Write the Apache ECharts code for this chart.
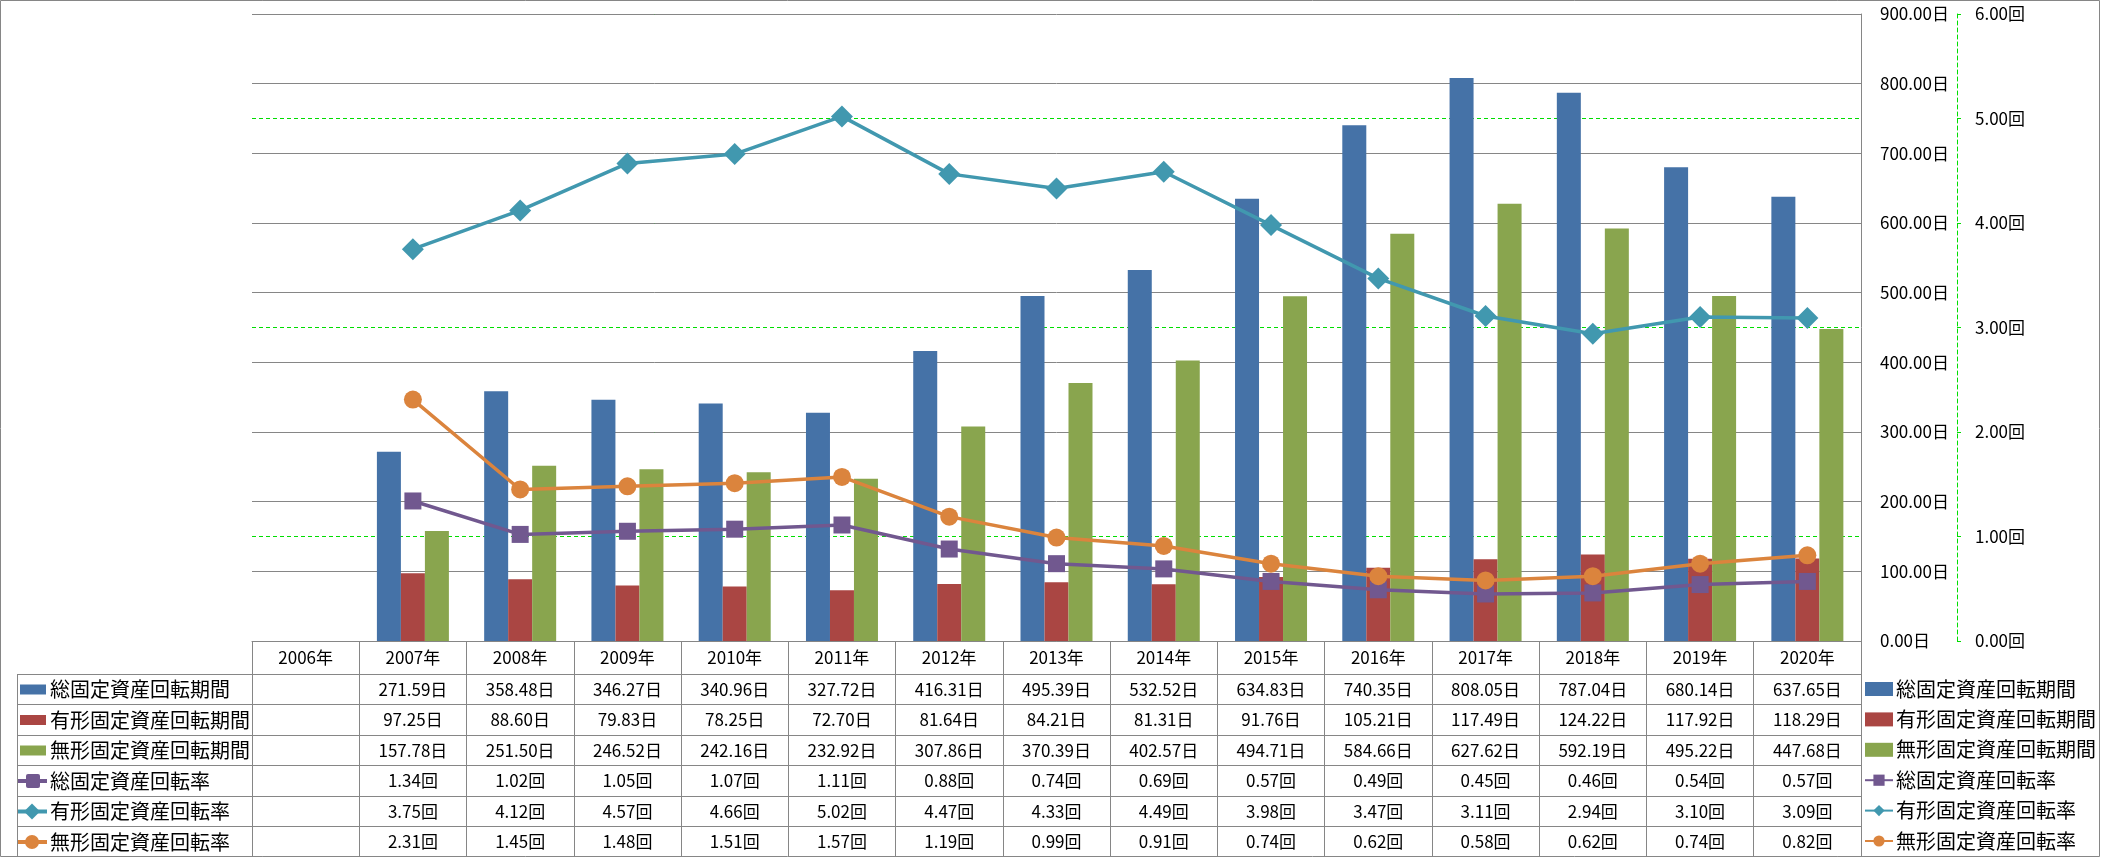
<!DOCTYPE html>
<html><head><meta charset="utf-8">
<script src="https://cdn.jsdelivr.net/npm/echarts@6/dist/echarts.min.js"></script>
<style>html,body{margin:0;padding:0;background:#fff}#c{width:2101px;height:858px}</style>
</head><body><div id="c"></div>
<script>
const categories = ['2006年','2007年','2008年','2009年','2010年','2011年','2012年','2013年','2014年','2015年','2016年','2017年','2018年','2019年','2020年'];
const totalPeriod      = [null, 271.59, 358.48, 346.27, 340.96, 327.72, 416.31, 495.39, 532.52, 634.83, 740.35, 808.05, 787.04, 680.14, 637.65];
const tangiblePeriod   = [null, 97.25, 88.60, 79.83, 78.25, 72.70, 81.64, 84.21, 81.31, 91.76, 105.21, 117.49, 124.22, 117.92, 118.29];
const intangiblePeriod = [null, 157.78, 251.50, 246.52, 242.16, 232.92, 307.86, 370.39, 402.57, 494.71, 584.66, 627.62, 592.19, 495.22, 447.68];
const totalRate        = [null, 1.34, 1.02, 1.05, 1.07, 1.11, 0.88, 0.74, 0.69, 0.57, 0.49, 0.45, 0.46, 0.54, 0.57];
const tangibleRate     = [null, 3.75, 4.12, 4.57, 4.66, 5.02, 4.47, 4.33, 4.49, 3.98, 3.47, 3.11, 2.94, 3.10, 3.09];
const intangibleRate   = [null, 2.31, 1.45, 1.48, 1.51, 1.57, 1.19, 0.99, 0.91, 0.74, 0.62, 0.58, 0.62, 0.74, 0.82];
const seriesNames = ['総固定資産回転期間','有形固定資産回転期間','無形固定資産回転期間','総固定資産回転率','有形固定資産回転率','無形固定資産回転率'];
const dayUnit = '日';
const rateUnit = '回';
const dayAxis = {min: 0, max: 900, interval: 100};
const rateAxis = {min: 0, max: 6, interval: 1};

const colors = ['#4572A7','#AA4643','#89A54E','#71588F','#4198AF','#DB843D'];
const symbols = ['rect','diamond','circle'];
const symbolSizes = [17, 22, 18];
const gray = '#868686';
const green = '#00dd00';
const FONT = '"Noto Sans CJK JP", "Noto Sans", sans-serif';

const chart = echarts.init(document.getElementById('c'), null, {renderer: 'canvas'});
const barData = [totalPeriod, tangiblePeriod, intangiblePeriod];
const lineData = [totalRate, tangibleRate, intangibleRate];

const series = [];
barData.forEach((d, i) => series.push({
  name: seriesNames[i], type: 'bar', yAxisIndex: 0, data: d,
  barWidth: 24, barGap: '0%', itemStyle: {color: colors[i]}
}));
lineData.forEach((d, i) => series.push({
  name: seriesNames[3 + i], type: 'line', yAxisIndex: 1, data: d,
  symbol: symbols[i], symbolSize: symbolSizes[i], showSymbol: true,
  lineStyle: {color: colors[3 + i], width: 3.5},
  itemStyle: {color: colors[3 + i]}
}));

const option = {
  animation: false,
  backgroundColor: '#fff',
  grid: {left: 252, right: 240, top: 14, bottom: 217, containLabel: false},
  legend: {
    orient: 'vertical', left: 1864, top: 679, itemGap: 10.4, padding: 0,
    itemWidth: 28, itemHeight: 14,
    textStyle: {fontFamily: FONT, fontSize: 20, lineHeight: 20, color: '#000', padding: [0,0,0,-2]},
    data: seriesNames.map((n, i) => i < 3 ? {name: n, icon: 'rect', itemHeight: 10} : {name: n})
  },
  xAxis: {
    type: 'category', data: categories, boundaryGap: true,
    axisLine: {show: true, lineStyle: {color: gray, width: 1}},
    axisTick: {show: true, length: 216, lineStyle: {color: gray, width: 1}},
    axisLabel: {margin: 8, fontFamily: FONT, fontSize: 17, color: '#000'},
    splitLine: {show: false}
  },
  yAxis: [
    {
      type: 'value', position: 'right', min: dayAxis.min, max: dayAxis.max, interval: dayAxis.interval, z: 1,
      axisLine: {show: true, lineStyle: {color: gray}},
      axisTick: {show: false},
      axisLabel: {margin: 19, fontFamily: FONT, fontSize: 17, color: '#000', formatter: v => v.toFixed(2) + dayUnit},
      splitLine: {show: true, lineStyle: {color: gray, width: 1}}
    },
    {
      type: 'value', position: 'right', offset: 96, min: rateAxis.min, max: rateAxis.max, interval: rateAxis.interval, z: 0,
      axisLine: {show: true, lineStyle: {color: green, type: [4, 3]}},
      axisTick: {show: true, length: 4, lineStyle: {color: green}},
      axisLabel: {margin: 18, fontFamily: FONT, fontSize: 17, color: '#000', formatter: v => v.toFixed(2) + rateUnit},
      splitLine: {show: true, lineStyle: {color: green, width: 1, type: [4, 3]}}
    }
  ],
  series: series
};
chart.setOption(option);

// data table below the plot
const rowY = [641, 674, 704, 735, 765, 796, 826, 857];
const tableLeft = 17, tableRight = 1861;
const rowValues = [totalPeriod, tangiblePeriod, intangiblePeriod, totalRate, tangibleRate, intangibleRate];
const rowUnits = [dayUnit, dayUnit, dayUnit, rateUnit, rateUnit, rateUnit];
const g = [];
g.push({type: 'rect', shape: {x: 0.5, y: 0.5, width: 2099, height: 856}, style: {fill: 'none', stroke: gray, lineWidth: 1}, silent: true});
for (let r = 1; r < 7; r++) {
  g.push({type: 'line', shape: {x1: tableLeft, y1: rowY[r] + 0.5, x2: tableRight, y2: rowY[r] + 0.5}, style: {stroke: gray, lineWidth: 1}, silent: true});
}
g.push({type: 'line', shape: {x1: tableLeft + 0.5, y1: rowY[1], x2: tableLeft + 0.5, y2: rowY[7]}, style: {stroke: gray, lineWidth: 1}, silent: true});
rowValues.forEach((vals, r) => {
  const yc = (rowY[r + 1] + rowY[r + 2]) / 2 + 0.5;
  vals.forEach((v, i) => {
    if (v == null) return;
    const x = chart.convertToPixel({xAxisIndex: 0}, i);
    g.push({type: 'text', silent: true, style: {x: x, y: yc, text: v.toFixed(2) + rowUnits[r], align: 'center', verticalAlign: 'middle', font: '17px ' + FONT, fill: '#000'}});
  });
  // legend key in the left column
  const c = colors[r];
  if (r < 3) {
    g.push({type: 'rect', silent: true, shape: {x: 20, y: yc - 5, width: 26, height: 10}, style: {fill: c}});
  } else {
    g.push({type: 'line', silent: true, shape: {x1: 18, y1: yc, x2: 47, y2: yc}, style: {stroke: c, lineWidth: 4}});
    const k = r - 3;
    if (k === 0) g.push({type: 'rect', silent: true, shape: {x: 26, y: yc - 7, width: 14, height: 14, r: 2}, style: {fill: c}});
    else if (k === 1) g.push({type: 'polygon', silent: true, shape: {points: [[32, yc - 8], [40, yc], [32, yc + 8], [24, yc]]}, style: {fill: c}});
    else g.push({type: 'circle', silent: true, shape: {cx: 32, cy: yc, r: 7}, style: {fill: c}});
  }
  g.push({type: 'text', silent: true, style: {x: 50, y: yc, text: seriesNames[r], align: 'left', verticalAlign: 'middle', font: '20px ' + FONT, fill: '#000'}});
});
chart.setOption({graphic: g});
</script>
</body></html>
